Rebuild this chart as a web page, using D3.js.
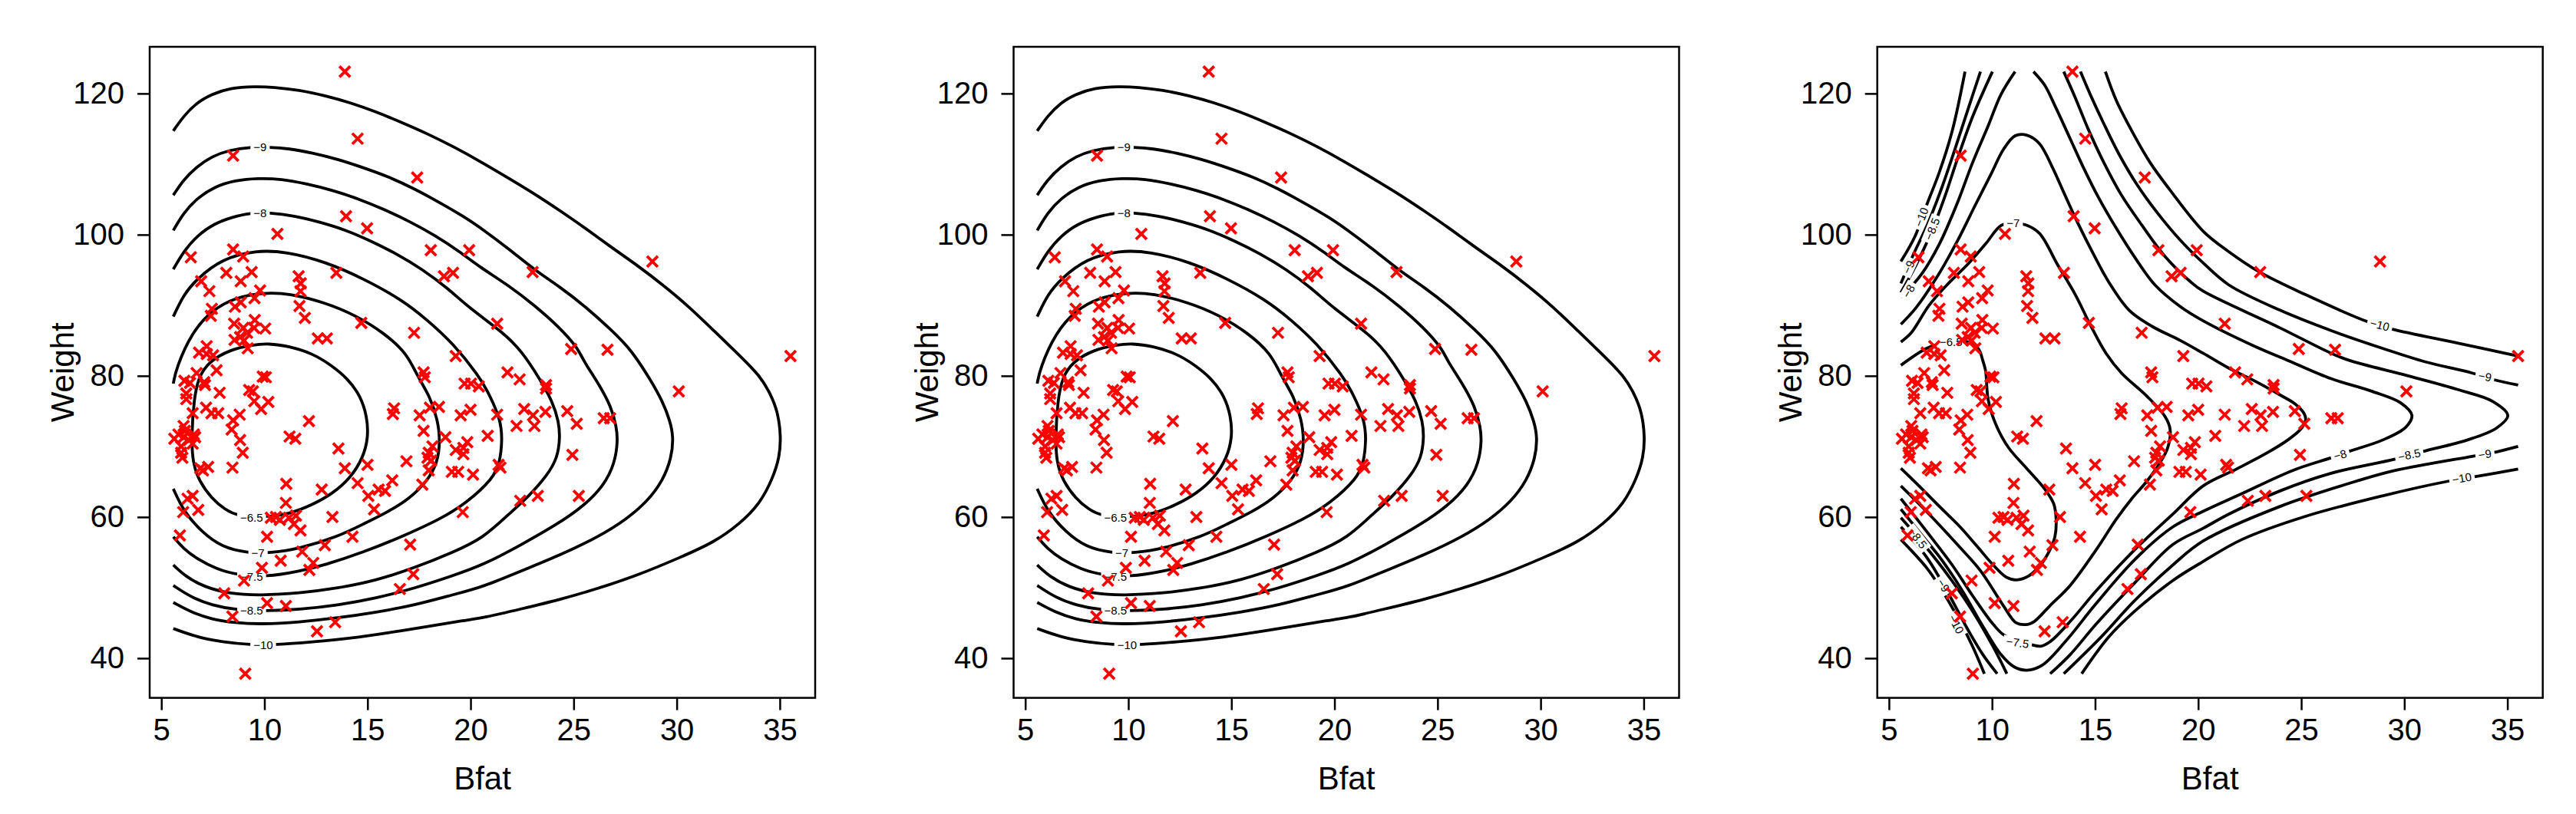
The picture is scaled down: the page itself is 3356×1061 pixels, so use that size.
<!DOCTYPE html>
<html>
<head>
<meta charset="utf-8">
<script src="https://cdnjs.cloudflare.com/ajax/libs/d3/7.8.5/d3.min.js"></script>
<style>
  body { margin: 0; background: #fff; }
  svg text { font-family: 'Liberation Sans', Arial, Helvetica, sans-serif; }
</style>
</head>
<body>
<div id="chart"></div>
<script>
// athletes: [body fat, weight]
const athletes = [
  [13.90, 123.1], [14.52, 113.6], [8.48, 111.2], [17.41, 108.1], [13.96, 102.6], [14.98, 100.9], [10.63, 100.1],
  [18.07, 97.8], [19.93, 97.8], [6.43, 96.8], [8.48, 97.9], [8.97, 96.9], [18.71, 94.1], [19.15, 94.6], [13.49, 94.6],
  [8.15, 94.6], [9.38, 94.7], [6.93, 93.4], [8.85, 93.4], [7.33, 92.0], [11.66, 94.1], [11.76, 93.1], [11.75, 92.0],
  [9.79, 92.1], [9.52, 91.0], [11.70, 89.9], [11.96, 88.2], [14.70, 87.5], [17.26, 86.1], [19.28, 82.8], [8.57, 89.8],
  [8.85, 90.4], [7.45, 89.5], [7.40, 88.5], [8.53, 87.4], [8.98, 86.8], [9.53, 87.9], [9.50, 86.8], [10.04, 86.7],
  [9.16, 86.1], [8.55, 85.1], [8.82, 85.5], [9.01, 85.0], [9.19, 83.9], [12.59, 85.3], [13.03, 85.3], [7.20, 84.2],
  [6.83, 83.3], [7.20, 83.1], [7.51, 82.9],
  [7.68, 80.8], [6.71, 80.4], [6.12, 79.3], [6.39, 79.0], [7.08, 79.1], [7.12, 78.7], [9.92, 79.9], [10.07, 79.8],
  [9.26, 78.0], [9.44, 77.8], [7.83, 77.6], [6.21, 77.5], [6.21, 76.7], [9.51, 76.4], [10.19, 76.3], [9.84, 75.3],
  [7.17, 75.5], [7.43, 74.7], [7.76, 74.7], [6.52, 74.7], [8.80, 74.5], [8.48, 73.7], [8.41, 72.4], [8.82, 70.9],
  [8.95, 69.1], [12.16, 73.6], [11.22, 71.4], [11.50, 71.1], [13.59, 69.7], [13.90, 66.9], [15.00, 67.4],
  [5.63, 71.1], [5.83, 71.7], [6.08, 71.3], [6.33, 70.9], [6.52, 70.4], [6.14, 72.2], [6.08, 72.9], [6.58, 71.7],
  [5.96, 70.0], [6.02, 68.4], [5.96, 69.1], [6.64, 71.3],
  [6.89, 66.9], [7.27, 67.1], [7.02, 66.6], [8.45, 67.0], [11.06, 64.7], [11.04, 62.0], [12.78, 63.9], [14.52, 64.8],
  [15.04, 63.0], [15.32, 61.1], [15.54, 63.9], [15.85, 63.7], [16.20, 65.2], [16.29, 75.4], [16.23, 74.6], [16.89, 67.9],
  [17.53, 74.4], [17.72, 80.5], [17.78, 79.8], [17.72, 72.2], [18.03, 75.5], [18.47, 75.6], [18.78, 71.3], [18.15, 70.0],
  [17.97, 69.1], [17.91, 68.4], [18.09, 68.0], [17.97, 66.6], [17.66, 64.6], [19.71, 78.9], [20.02, 78.9], [20.40, 78.5],
  [19.52, 74.4], [20.00, 75.2], [20.83, 71.5], [19.28, 69.5], [19.65, 69.8], [19.84, 70.6], [19.65, 68.9], [19.09, 66.4],
  [19.40, 66.4], [20.12, 66.0], [19.62, 60.7], [13.30, 60.0],
  [10.31, 59.9], [10.56, 60.0], [10.75, 59.6], [11.19, 59.9], [11.53, 60.2], [11.43, 59.0], [11.75, 58.1], [10.13, 57.2],
  [5.90, 57.4], [6.06, 60.7], [6.27, 62.6], [6.52, 63.0], [6.79, 61.0], [12.93, 56.0], [14.27, 57.2], [11.83, 55.1],
  [10.79, 53.8], [9.88, 52.8], [12.37, 53.5], [12.18, 52.5], [9.01, 51.0], [8.05, 49.2], [10.13, 47.8], [11.04, 47.4],
  [8.45, 45.9], [12.55, 43.8], [13.43, 45.1], [9.07, 37.8], [17.07, 56.1], [17.22, 51.9], [16.57, 49.8],
  [21.79, 80.5], [22.38, 79.5], [23.66, 78.7], [23.66, 78.2], [30.10, 77.8], [21.29, 74.5], [22.60, 75.3], [23.03, 74.4],
  [23.63, 74.9], [24.69, 75.0], [22.23, 72.9], [23.10, 72.9], [25.15, 73.2], [26.46, 74.0], [26.77, 74.0], [24.94, 68.8],
  [21.36, 67.4], [21.45, 67.0], [22.41, 62.3], [23.26, 63.0], [25.25, 63.0],
  [28.82, 96.2], [23.01, 94.7], [21.29, 87.4], [24.88, 83.8], [26.64, 83.7], [35.52, 82.8]
]

const xTicks = [5, 10, 15, 20, 25, 30, 35]
const yTicks = [40, 60, 80, 100, 120]

// log-density contours of the first two fits (same picture in panels 1 and 2)
const fitA = [
  { level: -10, pts: [[5.58, 114.7], [6.08, 116.8], [6.71, 118.7], [7.45, 119.9], [8.32, 120.8], [9.57, 121.0], [10.44, 120.9], [11.68, 120.5], [12.93, 119.7], [14.17, 118.7], [15.42, 117.4], [16.66, 115.9], [17.91, 114.3], [19.15, 112.5], [20.40, 110.5], [21.85, 108.0], [23.10, 105.8], [24.34, 103.4], [25.58, 100.9], [26.83, 98.2], [28.07, 95.7], [29.32, 92.9], [30.56, 89.9], [31.80, 86.4], [33.05, 82.9], [34.04, 80.0], [34.54, 77.5], [34.91, 74.9], [35.06, 71.3], [34.98, 68.4], [34.66, 65.5], [34.04, 61.9], [33.05, 59.0], [31.80, 56.4], [30.19, 54.3], [28.07, 51.7], [26.21, 49.9], [24.34, 48.3], [22.48, 47.0], [20.61, 45.7], [19.77, 45.4], [17.91, 44.5], [16.04, 43.6], [14.17, 42.8], [12.31, 42.3], [10.56, 41.9], [9.32, 41.9], [7.95, 42.3], [6.71, 43.0], [5.58, 44.2]] },
  { level: -9, pts: [[5.58, 105.6], [6.08, 107.8], [6.71, 109.6], [7.45, 111.1], [8.32, 112.0], [9.32, 112.4], [10.25, 112.4], [11.19, 112.2], [12.31, 111.6], [13.55, 110.7], [14.79, 109.5], [16.04, 108.2], [17.28, 106.5], [18.53, 104.5], [19.77, 102.4], [20.61, 100.7], [21.85, 98.0], [23.10, 95.0], [24.34, 92.6], [25.58, 89.8], [26.83, 86.5], [27.82, 83.6], [28.69, 79.6], [29.32, 76.4], [29.69, 73.5], [29.84, 71.3], [29.75, 68.4], [29.32, 65.1], [28.57, 62.2], [27.57, 59.7], [26.21, 57.2], [24.34, 54.6], [22.48, 52.4], [20.61, 50.1], [19.15, 49.0], [17.28, 47.5], [15.42, 46.5], [13.55, 45.7], [11.68, 45.1], [9.82, 44.8], [8.57, 45.0], [7.45, 45.5], [6.46, 46.5], [5.58, 47.9]] },
  { level: -8.5, pts: [[5.58, 100.6], [6.08, 103.1], [6.71, 105.1], [7.58, 106.8], [8.57, 107.7], [9.69, 108.0], [10.81, 107.9], [12.06, 107.2], [13.30, 106.3], [14.55, 105.1], [15.79, 103.6], [17.03, 101.9], [18.28, 99.9], [19.52, 97.5], [20.40, 95.5], [21.85, 92.8], [23.10, 90.0], [24.34, 86.8], [25.21, 83.9], [25.46, 82.2], [26.21, 78.9], [26.83, 75.6], [27.08, 72.7], [27.14, 70.9], [27.01, 67.7], [26.46, 64.4], [25.46, 61.5], [24.22, 59.0], [22.48, 56.1], [20.61, 53.2], [19.15, 51.7], [17.28, 49.9], [15.42, 48.5], [13.55, 47.5], [11.68, 46.9], [10.07, 46.7], [8.70, 46.8], [7.45, 47.5], [6.46, 48.6], [5.58, 50.3]] },
  { level: -8, pts: [[5.58, 95.1], [6.08, 97.6], [6.71, 99.8], [7.58, 101.6], [8.45, 102.5], [9.32, 103.1], [10.25, 103.1], [11.43, 102.7], [12.68, 101.8], [13.92, 100.7], [15.17, 99.1], [16.41, 97.3], [17.66, 95.1], [18.90, 92.4], [19.90, 89.7], [21.60, 86.1], [22.48, 83.5], [23.35, 79.6], [23.97, 76.4], [24.28, 73.5], [24.34, 71.3], [24.22, 68.4], [23.72, 65.9], [22.85, 63.0], [21.85, 60.4], [20.61, 57.0], [19.15, 55.0], [17.28, 52.8], [15.42, 51.0], [13.55, 49.9], [11.68, 49.2], [9.82, 48.9], [8.32, 49.1], [7.08, 50.1], [6.21, 51.5], [5.58, 53.2]] },
  { level: -7.5, pts: [[5.58, 88.4], [6.08, 91.5], [6.71, 93.7], [7.95, 96.6], [9.57, 97.8], [11.06, 97.6], [12.93, 96.2], [14.79, 93.8], [16.66, 90.8], [17.91, 87.9], [19.15, 84.6], [20.40, 80.0], [20.89, 77.5], [21.46, 73.8], [21.54, 70.9], [21.42, 67.7], [21.11, 65.5], [19.77, 61.9], [18.53, 59.7], [16.66, 57.2], [14.79, 55.0], [12.93, 53.2], [11.68, 52.3], [10.07, 51.5], [8.70, 51.8], [7.70, 52.6], [6.71, 54.1], [6.08, 55.5], [5.58, 57.2]] },
  { level: -7, pts: [[5.58, 78.9], [5.71, 81.0], [6.46, 86.1], [7.45, 89.3], [8.57, 91.1], [9.94, 91.8], [11.19, 91.7], [12.93, 90.4], [14.42, 88.6], [15.79, 86.1], [16.91, 83.2], [17.41, 80.0], [18.03, 77.1], [18.40, 73.8], [18.53, 70.9], [18.40, 67.7], [17.91, 65.1], [17.03, 62.6], [16.04, 60.8], [14.79, 59.0], [13.55, 57.2], [11.68, 55.5], [10.31, 54.9], [9.19, 54.9], [7.95, 55.7], [6.95, 57.9], [6.08, 60.8], [5.58, 64.0]] },
  { level: -6.5, closed: true, pts: [[6.58, 76.7], [6.80, 79.8], [7.30, 82.0], [8.32, 83.7], [9.44, 84.4], [10.19, 84.6], [11.19, 84.2], [12.31, 83.2], [13.20, 81.6], [14.05, 79.6], [14.67, 77.1], [14.98, 74.2], [15.04, 71.3], [14.79, 68.4], [14.17, 65.5], [13.30, 63.3], [12.31, 61.7], [11.19, 60.4], [10.07, 60.0], [8.70, 60.1], [8.07, 61.1], [7.45, 62.6], [6.83, 65.1], [6.52, 67.7], [6.46, 71.3]] }
]

// contours of the third fit: several open pieces per level
const fitC = [
  { level: -10, pts: [[5.58, 96.2], [6.27, 99.8], [6.83, 104.2], [7.45, 108.9], [8.07, 114.7], [8.69, 123.1]] },
  { level: -10, pts: [[15.50, 123.1], [16.03, 119.0], [16.78, 114.7], [17.65, 110.3], [18.64, 106.3], [20.24, 100.5], [21.48, 97.6], [22.98, 94.7], [25.21, 91.5], [28.19, 87.7], [29.43, 86.6], [32.66, 84.6], [35.52, 82.8]] },
  { level: -10, pts: [[35.52, 66.8], [33.41, 65.7], [32.17, 65.1], [28.94, 63.0], [25.21, 60.1], [22.11, 56.8], [20.24, 53.7], [18.77, 51.0], [16.90, 46.6], [15.66, 43.0], [14.35, 37.8]] },
  { level: -10, pts: [[9.63, 37.8], [9.07, 41.6], [8.45, 45.2], [7.57, 49.6], [6.83, 52.8], [5.58, 56.8]] },
  { level: -9, pts: [[5.58, 93.1], [6.14, 96.9], [6.89, 101.6], [7.57, 106.7], [8.20, 112.1], [8.94, 118.7], [9.44, 123.1]] },
  { level: -9, pts: [[14.29, 123.1], [14.79, 119.7], [15.41, 115.8], [16.16, 111.4], [17.03, 107.1], [18.02, 103.1], [19.14, 99.2], [20.24, 96.0], [21.48, 92.9], [23.97, 89.3], [26.46, 86.4], [28.94, 83.9], [31.00, 82.0], [33.29, 80.4], [34.28, 79.5], [35.52, 78.7]] },
  { level: -9, pts: [[35.52, 70.0], [34.28, 69.1], [33.29, 68.6], [29.56, 66.6], [27.70, 65.1], [23.97, 61.5], [20.24, 56.6], [18.77, 53.2], [16.90, 48.1], [15.29, 43.0], [13.48, 37.8]] },
  { level: -9, pts: [[10.25, 37.8], [9.56, 40.5], [8.82, 44.1], [7.82, 49.5], [6.83, 54.3], [5.58, 58.6]] },
  { level: -8.5, pts: [[5.58, 91.8], [6.33, 95.8], [7.08, 100.5], [7.70, 105.3], [8.32, 110.7], [9.07, 116.8], [10.02, 123.1]] },
  { level: -8.5, pts: [[13.48, 123.1], [14.04, 119.4], [14.66, 115.0], [15.41, 110.3], [16.28, 105.6], [17.28, 101.3], [18.40, 96.9], [19.64, 93.3], [20.24, 92.0], [23.97, 86.8], [26.45, 83.2], [27.32, 82.2], [30.18, 80.0], [32.66, 78.0], [34.28, 76.4], [35.02, 74.4], [34.47, 72.6], [33.04, 70.9], [30.93, 69.3], [29.56, 68.2], [26.45, 66.2], [23.97, 63.7], [21.48, 60.4], [20.24, 58.4], [18.77, 56.1], [16.90, 50.6], [15.04, 44.8], [13.79, 40.5], [12.82, 37.8]] },
  { level: -8.5, pts: [[10.72, 37.8], [10.06, 41.6], [9.07, 46.6], [7.95, 51.4], [6.70, 56.1], [5.58, 59.9]] },
  { level: -8, pts: [[5.58, 91.1], [6.58, 94.4], [7.45, 98.7], [8.32, 104.5], [9.07, 110.3], [9.81, 115.4], [10.44, 119.9], [11.12, 123.1]] },
  { level: -8, pts: [[12.01, 123.1], [12.55, 121.2], [13.11, 117.9], [13.79, 113.6], [14.42, 109.6], [15.16, 105.3], [16.03, 100.9], [16.90, 96.9], [17.90, 92.9], [19.14, 89.8], [20.24, 87.8], [22.73, 84.2], [24.34, 82.2], [26.45, 79.6], [28.44, 77.8], [29.81, 76.2], [30.37, 74.4], [30.06, 72.7], [28.94, 70.9], [27.32, 69.3], [26.45, 68.4], [24.59, 66.6], [22.11, 63.3], [20.24, 60.8], [18.77, 58.6], [16.90, 53.9], [15.04, 47.7], [13.54, 42.3], [12.43, 39.0], [11.68, 38.3], [11.06, 38.8], [10.44, 40.5], [9.56, 44.5], [8.57, 49.5], [7.57, 53.9], [6.58, 57.5], [5.58, 61.1]] },
  { level: -7.5, pts: [[5.58, 87.3], [6.33, 89.7], [7.33, 94.0], [8.32, 99.1], [9.19, 104.2], [9.94, 108.5], [10.56, 112.1], [11.12, 114.0], [11.68, 114.1], [12.30, 112.9], [12.92, 109.6], [13.54, 105.6], [14.17, 101.6], [14.91, 97.3], [15.66, 93.3], [16.65, 89.3], [17.77, 87.0], [19.14, 85.0], [20.24, 83.2], [21.48, 81.1], [22.73, 79.3], [23.97, 77.3], [24.71, 76.0], [25.15, 74.6], [25.21, 73.7], [24.96, 72.4], [24.34, 70.9], [23.35, 69.1], [21.86, 66.8], [20.24, 64.4], [18.77, 60.4], [16.90, 55.3], [15.04, 49.5], [13.79, 45.2], [12.80, 42.3], [12.36, 41.7], [11.93, 41.9], [10.62, 43.2], [10.06, 44.8], [9.07, 48.8], [8.07, 53.2], [6.95, 57.5], [5.58, 62.6]] },
  { level: -7, pts: [[5.58, 84.8], [6.08, 86.1], [6.95, 90.0], [7.82, 92.9], [8.82, 95.8], [9.69, 98.7], [10.44, 101.3], [11.03, 101.6], [11.62, 101.4], [12.30, 100.2], [13.17, 95.8], [14.04, 91.5], [14.79, 87.1], [15.53, 83.2], [16.28, 80.4], [17.52, 77.1], [18.40, 74.2], [18.64, 72.4], [18.52, 69.8], [18.15, 67.7], [17.52, 65.1], [16.78, 62.6], [16.03, 59.7], [15.04, 55.3], [13.79, 50.3], [12.80, 47.4], [12.05, 45.2], [11.74, 44.8], [11.18, 45.0], [10.56, 47.4], [9.44, 52.4], [8.32, 56.1], [6.95, 60.4], [5.58, 64.4]] },
  { level: -6.5, pts: [[5.58, 81.5], [6.83, 83.9], [7.57, 84.6], [8.57, 85.0], [9.32, 83.9], [9.56, 82.1], [9.69, 80.7], [9.81, 76.7], [10.19, 73.1], [10.81, 69.8], [11.68, 66.9], [12.55, 64.0], [12.99, 61.9], [13.11, 59.7], [13.05, 57.2], [12.80, 55.3], [12.43, 53.5], [11.80, 51.7], [11.18, 51.1], [10.68, 51.5], [10.06, 53.2], [9.32, 55.7], [8.45, 58.6], [7.45, 61.5], [6.46, 64.4], [5.58, 66.9]] }
]

// contour labels: [level, bfat, weight, rotation]
const labelsA = [
  [-9, 9.79, 112.4, 0], [-8, 9.79, 103.1, 0], [-6.5, 9.38, 59.9, 0], [-7, 9.69, 54.9, 0],
  [-7.5, 9.38, 51.5, 0], [-8.5, 9.38, 46.8, 0], [-10, 9.94, 41.9, 0]
]
const labelsC = [
  [-10, 6.58, 102.5, -68], [-8.5, 7.10, 100.8, -68], [-9, 5.96, 95.4, -65], [-8, 5.96, 92.0, -60],
  [-7, 11.03, 101.6, 0], [-6.5, 8.01, 84.8, 0],
  [-10, 28.81, 87.2, 14], [-9, 33.91, 79.9, 10],
  [-8, 26.89, 68.8, -15], [-8.5, 30.24, 68.8, -12], [-9, 33.91, 68.9, -8], [-10, 32.79, 65.5, -10],
  [-8.5, 6.39, 57.0, 52], [-9, 7.64, 50.3, 58], [-10, 8.26, 44.8, 62], [-7.5, 11.24, 42.2, 8]
]

const W = 3356
const H = 1061
const plotTop = 61
const pw = 867
const ph = 848.6
const panels = [
  { left: 195, fit: fitA, labels: labelsA, curve: d3.curveBasis },
  { left: 1320.5, fit: fitA, labels: labelsA, curve: d3.curveBasis },
  { left: 2445.7, fit: fitC, labels: labelsC, curve: d3.curveCatmullRom.alpha(0.5) }
]

const svg = d3.select('#chart').append('svg')
  .attr('width', W)
  .attr('height', H)
  .style('background', '#fff')

const x = d3.scaleLinear().domain([4.434, 36.716]).range([0, pw])
const y = d3.scaleLinear().domain([34.384, 126.616]).range([ph, 0])

function styleAxis (g) {
  g.select('.domain').remove()
  g.selectAll('.tick line').attr('stroke', '#000').attr('stroke-width', 2.5)
  g.selectAll('.tick text').attr('fill', '#000').style('font-size', '40px')
}

panels.forEach(p => {
  const g = svg.append('g').attr('transform', 'translate(' + p.left + ',' + plotTop + ')')
  const line = d3.line().x(d => x(d[0])).y(d => y(d[1])).curve(p.curve)
  const loop = d3.line().x(d => x(d[0])).y(d => y(d[1])).curve(d3.curveBasisClosed)

  // contour lines
  p.fit.forEach(c => {
    g.append('path')
      .attr('d', (c.closed ? loop : line)(c.pts))
      .attr('fill', 'none')
      .attr('stroke', '#000')
      .attr('stroke-width', 3.8)
  })

  // contour labels sit in a small gap of the line
  p.labels.forEach(l => {
    const lg = g.append('g')
      .attr('transform', 'translate(' + x(l[1]) + ',' + y(l[2]) + ') rotate(' + l[3] + ')')
    const bg = lg.append('rect').attr('fill', '#fff')
    const t = lg.append('text')
      .attr('text-anchor', 'middle')
      .attr('dy', '0.35em')
      .style('font-size', '15px')
      .attr('fill', '#000')
      .text(String(l[0]).replace('-', '\u2212'))
    const w = t.node().getComputedTextLength()
    bg.attr('x', -w / 2 - 4).attr('y', -8).attr('width', w + 8).attr('height', 16)
  })

  // points
  g.selectAll('path.pt')
    .data(athletes)
    .join('path')
    .attr('class', 'pt')
    .attr('transform', d => 'translate(' + x(d[0]) + ',' + y(d[1]) + ')')
    .attr('d', 'M-7,-7L7,7M7,-7L-7,7')
    .attr('stroke', '#ff0000')
    .attr('stroke-width', 3.8)
    .attr('fill', 'none')

  // box
  g.append('rect')
    .attr('width', pw)
    .attr('height', ph)
    .attr('fill', 'none')
    .attr('stroke', '#000')
    .attr('stroke-width', 2.5)

  // axes
  g.append('g')
    .attr('transform', 'translate(0,' + ph + ')')
    .call(d3.axisBottom(x).tickValues(xTicks).tickSize(16).tickPadding(11))
    .call(styleAxis)
  g.append('g')
    .call(d3.axisLeft(y).tickValues(yTicks).tickSize(16).tickPadding(17))
    .call(styleAxis)

  g.append('text')
    .attr('x', pw / 2)
    .attr('y', ph + 119)
    .attr('text-anchor', 'middle')
    .style('font-size', '42px')
    .text('Bfat')

  g.append('text')
    .attr('transform', 'translate(-99,' + ph / 2 + ') rotate(-90)')
    .attr('text-anchor', 'middle')
    .style('font-size', '42px')
    .text('Weight')
})
</script>
</body>
</html>
